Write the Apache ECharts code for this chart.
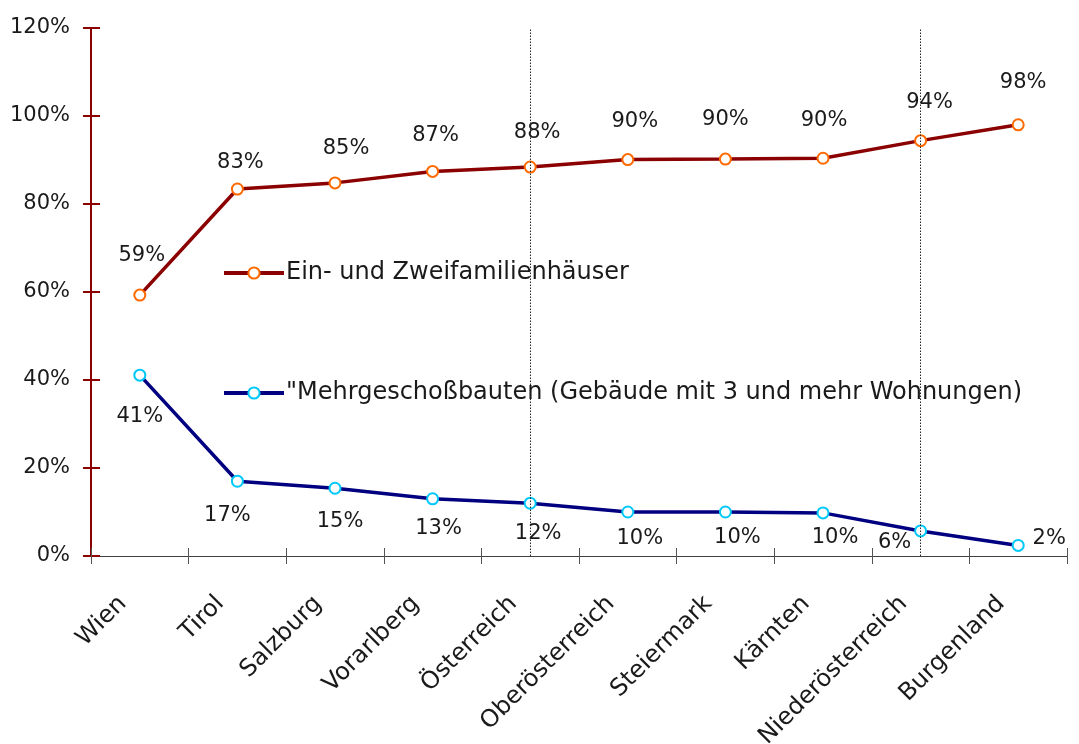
<!DOCTYPE html>
<html>
<head>
<meta charset="utf-8">
<script src="https://cdn.jsdelivr.net/npm/echarts@6/dist/echarts.min.js"></script>
<style>
  html, body { margin: 0; padding: 0; background: #fff; }
  #main { width: 1079px; height: 744px; }
</style>
</head>
<body>
<div id="main"></div>
<script>
// ===== 数据 =====
var categories = ['Wien', 'Tirol', 'Salzburg', 'Vorarlberg', 'Österreich',
  'Oberösterreich', 'Steiermark', 'Kärnten', 'Niederösterreich', 'Burgenland'];
var einZwei = [59.3, 83.4, 84.8, 87.4, 88.4, 90.1, 90.2, 90.4, 94.4, 98.0];
var mehrgeschoss = [41.1, 17.0, 15.4, 13.0, 12.0, 10.0, 10.0, 9.8, 5.7, 2.4];
var seriesNames = ['Ein- und Zweifamilienhäuser',
  '"Mehrgeschoßbauten (Gebäude mit 3 und mehr Wohnungen)'];
var markedCategories = ['Österreich', 'Niederösterreich'];

// ===== 标签偏移（相对数据点中心，像素） =====
var upperOffsets = [[2, -40], [3, -26], [11, -34], [3, -36], [7, -34],
  [7, -38], [0, -40], [1, -38], [9, -38], [5, -42]];
var lowerOffsets = [[0, 41], [-10, 34], [5, 33], [6, 30], [8, 30],
  [12, 27], [12, 26], [12, 25], [-26, 12], [31, -7]];

var FONT = 'DejaVu Sans';
var TEXT = '#1a1a1a';

function pct(p) { return Math.round(p.value) + '%'; }

function withLabels(values, offsets) {
  return values.map(function(v, i) {
    return { value: v, label: { offset: offsets[i] } };
  });
}

var chart = echarts.init(document.getElementById('main'));

var labelBase = {
  show: true,
  position: 'inside',
  formatter: pct,
  fontSize: 21,
  color: TEXT,
  fontFamily: FONT
};

var option = {
  backgroundColor: '#fff',
  animation: false,
  textStyle: { fontFamily: FONT },
  grid: {
    left: 91, right: 12, top: 28, bottom: 188,
    containLabel: false,
    outerBoundsMode: 'none'
  },
  legend: {
    orient: 'vertical',
    left: 222,
    top: 259,
    padding: 0,
    itemGap: 92,
    itemWidth: 60,
    itemHeight: 14,
    lineStyle: { width: 4 },
    itemStyle: { borderWidth: 2 },
    textStyle: { fontFamily: FONT, fontSize: 24, lineHeight: 28, color: TEXT, padding: [0, 0, 0, -3] },
    data: seriesNames
  },
  xAxis: [
    {
      type: 'category',
      data: categories,
      boundaryGap: true,
      axisLine: { lineStyle: { color: '#404040', width: 1 } },
      axisTick: { show: true, interval: 0, length: 8, lineStyle: { color: '#555' } },
      axisLabel: {
        rotate: 45,
        margin: 27,
        padding: [0, 24, 0, 0],
        fontSize: 24,
        color: TEXT,
        fontFamily: FONT,
        interval: 0
      }
    },
    {
      // 向内的刻度，形成穿过轴线的刻度
      type: 'category',
      data: categories,
      position: 'bottom',
      boundaryGap: true,
      axisLine: { show: false },
      axisTick: { show: true, interval: 0, inside: true, length: 8, lineStyle: { color: '#555' } },
      axisLabel: { show: false, interval: 0 }
    }
  ],
  yAxis: [
    {
      type: 'value',
      min: 0,
      max: 120,
      interval: 20,
      splitLine: { show: false },
      axisLine: { show: true, lineStyle: { color: '#8B0000', width: 2 } },
      axisTick: { show: true, length: 8, lineStyle: { color: '#8B0000', width: 2 } },
      axisLabel: {
        formatter: '{value}%',
        fontSize: 21,
        color: TEXT,
        fontFamily: FONT,
        margin: 21
      }
    },
    {
      type: 'value',
      min: 0,
      max: 120,
      interval: 20,
      position: 'left',
      splitLine: { show: false },
      axisLine: { show: false },
      axisTick: { show: true, inside: true, length: 9, lineStyle: { color: '#8B0000', width: 2 } },
      axisLabel: { show: false }
    }
  ],
  series: [
    {
      name: seriesNames[0],
      type: 'line',
      data: withLabels(einZwei, upperOffsets),
      symbol: 'circle',
      symbolSize: 11,
      lineStyle: { color: '#8B0000', width: 3.5 },
      itemStyle: { color: '#fff', borderColor: '#FF6A00', borderWidth: 2 },
      label: labelBase,
      markLine: {
        silent: true,
        symbol: ['none', 'none'],
        label: { show: false },
        emphasis: { disabled: true },
        lineStyle: { color: '#222', type: [1.5, 1.5], width: 1 },
        data: markedCategories.map(function(c) { return { xAxis: c }; })
      },
      z: 3
    },
    {
      name: seriesNames[1],
      type: 'line',
      data: withLabels(mehrgeschoss, lowerOffsets),
      symbol: 'circle',
      symbolSize: 11,
      lineStyle: { color: '#000080', width: 3.5 },
      itemStyle: { color: '#fff', borderColor: '#00C8F8', borderWidth: 2 },
      label: labelBase,
      z: 3
    }
  ]
};

chart.setOption(option);
</script>
</body>
</html>
